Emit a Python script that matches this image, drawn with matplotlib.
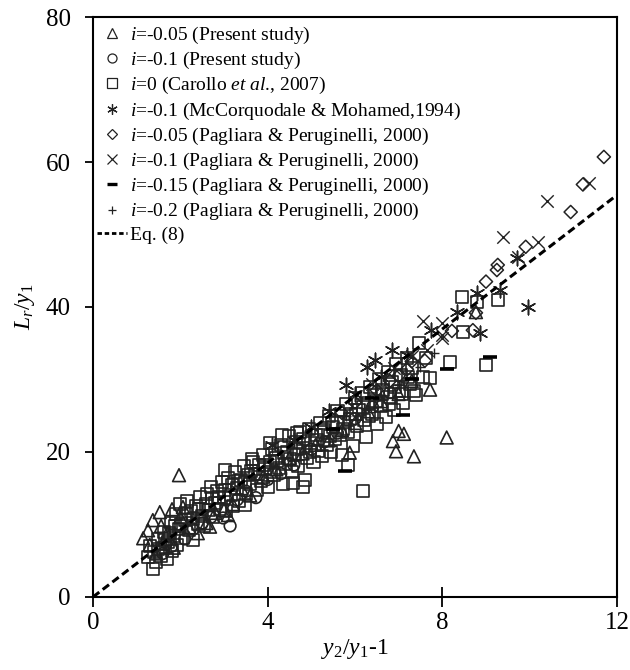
import matplotlib
matplotlib.use("Agg")
import matplotlib.pyplot as plt
from matplotlib.lines import Line2D

plt.rcParams['font.family'] = ['Liberation Serif', 'DejaVu Serif']
plt.rcParams['mathtext.fontset'] = 'custom'
plt.rcParams['mathtext.rm'] = 'Liberation Serif'
plt.rcParams['mathtext.it'] = 'Liberation Serif:italic'

# ---------------- data ----------------
present_005 = [(1.15, 8.1), (1.26, 9.2), (1.37, 10.6), (1.53, 11.7), (1.56, 9.8), (1.81, 12.1),
               (1.97, 16.8), (2.06, 12.4), (2.0, 11.0), (1.3, 7.2), (1.45, 6.0), (1.6, 7.4),
               (1.7, 8.8), (1.85, 6.8), (2.2, 9.6), (2.4, 8.8), (2.6, 10.2), (2.68, 9.7),
               (2.8, 11.6), (3.0, 12.0), (3.09, 11.3), (3.2, 12.8), (3.4, 15.0), (3.6, 14.0),
               (3.9, 16.6), (4.2, 17.6), (4.5, 19.2), (4.8, 19.8), (5.1, 21.0), (5.4, 21.6),
               (5.7, 23.0), (5.88, 19.9), (6.0, 24.0), (6.3, 25.6), (6.6, 27.0), (6.87, 21.5),
               (6.94, 20.1), (7.0, 22.9), (7.12, 22.5), (7.35, 19.4), (8.1, 22.0), (7.72, 28.6),
               (8.77, 39.3), (7.0, 28.0), (7.3, 29.8)]

present_01 = [(3.73, 13.7), (3.14, 9.8), (2.98, 10.9), (1.6, 6.0), (1.8, 7.0), (2.1, 8.0),
              (2.3, 9.4), (2.5, 10.2), (2.7, 11.0), (3.3, 13.4), (3.5, 14.6), (4.0, 16.2),
              (4.3, 17.0), (4.6, 18.2), (5.0, 20.4), (5.3, 21.4), (5.6, 22.6), (6.0, 24.6),
              (6.4, 26.2), (6.8, 28.2)]

carollo_0 = [(1.25, 5.5), (1.30, 7.0), (1.37, 3.8), (1.40, 6.2), (1.45, 4.8), (1.50, 8.0),
             (1.55, 5.6), (1.60, 6.8), (1.62, 9.0), (1.70, 5.2), (1.72, 7.6), (1.78, 10.2),
             (1.80, 6.4), (1.85, 8.4), (1.90, 11.5), (1.92, 7.2), (1.98, 9.4), (2.00, 12.8),
             (2.05, 8.2), (2.10, 10.6), (2.15, 13.3), (2.20, 9.2), (2.25, 11.8), (2.30, 7.8),
             (2.35, 12.6), (2.40, 10.0), (2.45, 13.8), (2.50, 11.2), (2.55, 9.8), (2.60, 14.2),
             (2.65, 12.0), (2.70, 15.2), (2.75, 11.0), (2.80, 13.0), (2.85, 14.6), (2.90, 12.2),
             (2.95, 15.8), (3.00, 13.6), (3.05, 11.8), (3.10, 16.4), (3.15, 14.0), (3.20, 12.6),
             (3.25, 17.2), (3.30, 15.0), (3.35, 13.2), (3.40, 16.2), (3.45, 18.0), (3.50, 14.2),
             (3.55, 16.8), (3.60, 15.6), (3.65, 19.0), (3.70, 17.0), (3.75, 14.8), (3.80, 18.2),
             (3.85, 16.0), (3.90, 19.6), (3.95, 17.6), (4.00, 15.2), (4.05, 18.6), (4.10, 20.4),
             (4.15, 16.8), (4.20, 19.2), (4.25, 17.8), (4.30, 21.0), (4.35, 15.6), (4.40, 18.4),
             (4.45, 20.0), (4.50, 22.2), (4.55, 17.2), (4.60, 19.6), (4.65, 21.4), (4.70, 18.0),
             (4.75, 22.8), (4.80, 20.6), (4.85, 16.2), (4.90, 19.2), (4.95, 23.2), (5.00, 21.2),
             (5.05, 18.6), (5.10, 22.4), (5.15, 20.2), (5.20, 24.0), (5.25, 19.4), (5.30, 22.8),
             (5.35, 21.0), (5.40, 25.0), (5.45, 20.0), (5.50, 23.4), (5.55, 21.8), (5.60, 25.6),
             (5.65, 22.4), (5.70, 19.6), (5.75, 24.2), (5.80, 26.6), (5.85, 22.8), (5.90, 25.2),
             (5.95, 20.8), (6.00, 27.4), (6.05, 23.6), (6.10, 25.8), (6.15, 28.2), (6.20, 24.4),
             (6.25, 22.0), (6.30, 26.8), (6.35, 29.0), (6.40, 25.2), (6.45, 27.8), (6.50, 23.8),
             (6.55, 30.0), (6.60, 26.4), (6.65, 28.6), (6.70, 24.8), (6.75, 31.0), (6.80, 27.6),
             (6.85, 29.6), (6.90, 25.8), (6.95, 32.2), (7.00, 28.4), (7.05, 30.6), (7.10, 26.8),
             (7.20, 33.0), (7.25, 29.4), (7.30, 31.6), (7.40, 27.8), (7.47, 35.0), (7.55, 30.4),
             (7.63, 33.0), (7.72, 30.2), (7.35, 28.4), (6.18, 14.6), (9.0, 32.0), (8.17, 32.4),
             (8.45, 41.4), (9.27, 41.0), (8.8, 40.7), (8.47, 36.5), (5.84, 18.2), (4.8, 15.2),
             (4.58, 15.7), (3.48, 12.7), (3.02, 17.5), (4.33, 22.3), (4.67, 22.6), (4.05, 21.2),
             (3.66, 18.6), (1.5, 6.6), (1.65, 7.8), (1.75, 8.8), (1.88, 9.8), (2.02, 10.0),
             (2.12, 11.4), (2.28, 10.8), (2.42, 12.2), (2.58, 12.8), (2.72, 13.6), (2.88, 13.8),
             (3.02, 14.8), (3.18, 15.4), (3.32, 16.0), (3.48, 15.8), (3.62, 17.4), (3.78, 17.0),
             (3.92, 18.2), (4.08, 17.2), (4.22, 18.8), (4.38, 19.8), (4.52, 19.0), (4.68, 20.4),
             (4.82, 21.8), (4.98, 20.0), (5.12, 21.6), (5.28, 23.0), (5.42, 22.2), (5.58, 24.2),
             (5.72, 23.2), (5.88, 24.6), (6.02, 25.2), (6.18, 26.2), (6.32, 25.0), (6.48, 27.0),
             (6.62, 28.0), (6.78, 26.6), (6.92, 29.0), (7.08, 28.0), (7.22, 30.4)]

mccorquodale_01 = [(9.96, 40.0), (9.71, 46.8), (9.32, 42.3), (8.33, 39.3), (8.86, 36.4),
                   (6.85, 34.1), (7.74, 36.8), (8.79, 41.9), (5.79, 29.2), (6.27, 31.7),
                   (6.46, 32.7), (4.1, 21.0), (5.4, 25.6), (6.0, 28.0), (7.2, 33.4),
                   (5.0, 23.4), (4.6, 21.6), (6.6, 30.4)]

pagliara_005 = [(9.91, 48.3), (9.27, 45.8), (9.25, 45.1), (9.0, 43.5), (8.77, 39.2),
                (8.22, 36.7), (8.7, 36.8), (11.7, 60.7), (11.22, 56.9), (10.94, 53.1),
                (7.19, 31.4), (7.0, 30.5), (6.5, 28.5), (7.3, 32.5), (6.0, 26.8),
                (7.6, 32.6), (6.8, 29.8), (5.7, 25.4)]

pagliara_01 = [(7.55, 38.1), (8.0, 37.8), (8.0, 35.7), (7.65, 34.1), (9.39, 49.7),
               (10.19, 49.0), (10.4, 54.6), (11.36, 57.1), (9.73, 46.9), (8.0, 36.1),
               (6.9, 31.6), (6.4, 29.4), (7.3, 33.2)]

pagliara_015 = [(9.09, 33.1), (8.1, 31.4), (7.1, 25.1), (5.77, 17.4), (6.4, 27.5),
                (5.5, 23.2), (7.3, 30.0)]

pagliara_02 = [(7.49, 31.7), (7.0, 29.2), (6.6, 27.8), (6.2, 26.0), (5.8, 25.0), (7.8, 33.6)]

eq8_slope = 4.62
eq8_x = [0, 12]

# ---------------- figure ----------------
fig = plt.figure(figsize=(6.3, 6.7), dpi=100)
ax = fig.add_axes([0.1476, 0.109, 0.8317, 0.8656])

ec = '#222222'

def xs(p):
    return [a for a, b in p]

def ys(p):
    return [b for a, b in p]

ax.scatter(xs(carollo_0), ys(carollo_0), marker='s', s=75, facecolors='none',
           edgecolors=ec, linewidths=1.2, zorder=2)
ax.scatter(xs(present_005), ys(present_005), marker='^', s=85, facecolors='none',
           edgecolors=ec, linewidths=1.2, zorder=3)
ax.scatter(xs(present_01), ys(present_01), marker='o', s=70, facecolors='none',
           edgecolors=ec, linewidths=1.2, zorder=3)
ax.scatter(xs(mccorquodale_01), ys(mccorquodale_01), marker=(6, 2, 0), s=110,
           color=ec, linewidths=1.1, zorder=3)
ax.scatter(xs(pagliara_005), ys(pagliara_005), marker='D', s=45, facecolors='none',
           edgecolors=ec, linewidths=1.1, zorder=3)
ax.scatter(xs(pagliara_01), ys(pagliara_01), marker='x', s=80,
           color=ec, linewidths=1.0, zorder=3)
ax.scatter(xs(pagliara_015), ys(pagliara_015), marker='_', s=100,
           color='black', linewidths=2.6, zorder=3)
ax.scatter(xs(pagliara_02), ys(pagliara_02), marker='+', s=60,
           color=ec, linewidths=1.0, zorder=3)

ax.plot(eq8_x, [eq8_slope * v for v in eq8_x], color='black', lw=2.2,
        ls=(0, (2.6, 1.4)), zorder=4)

ax.set_xlim(0, 12)
ax.set_ylim(0, 80)
ax.set_xticks([0, 4, 8, 12])
ax.set_yticks([0, 20, 40, 60, 80])
ax.tick_params(axis='x', direction='inout', length=14, width=1.3, labelsize=18, pad=4)
ax.tick_params(axis='y', direction='out', length=6, width=1.3, labelsize=18, pad=10)
for sp in ax.spines.values():
    sp.set_linewidth(1.5)

ax.set_xlabel(r'$\mathit{y}_{\mathrm{2}}/\mathit{y}_{\mathrm{1}}$-1', fontsize=17, labelpad=2)
ax.set_ylabel(r'$\mathit{L}_{\mathit{r}}/\mathit{y}_{\mathrm{1}}$', fontsize=17, labelpad=6)

handles = [
    Line2D([], [], ls='none', marker='^', mfc='none', mec=ec, ms=6.5, mew=0.9),
    Line2D([], [], ls='none', marker='o', mfc='none', mec=ec, ms=6.5, mew=0.9),
    Line2D([], [], ls='none', marker='s', mfc='none', mec=ec, ms=6.5, mew=0.9),
    Line2D([], [], ls='none', marker=(6, 2, 0), color=ec, ms=7.5, mew=0.9),
    Line2D([], [], ls='none', marker='D', mfc='none', mec=ec, ms=5, mew=0.9),
    Line2D([], [], ls='none', marker='x', color=ec, ms=6.5, mew=0.9),
    Line2D([], [], ls='none', marker='_', color='black', ms=6.5, mew=2.4),
    Line2D([], [], ls='none', marker='+', color=ec, ms=5.5, mew=0.9),
    Line2D([], [], color='black', lw=2.0, ls=(0, (1.6, 1.0))),
]
labels = [
    r'$\mathit{i}$=-0.05 (Present study)',
    r'$\mathit{i}$=-0.1 (Present study)',
    r'$\mathit{i}$=0 (Carollo $\mathit{et\ al}$., 2007)',
    r'$\mathit{i}$=-0.1 (McCorquodale & Mohamed,1994)',
    r'$\mathit{i}$=-0.05 (Pagliara & Peruginelli, 2000)',
    r'$\mathit{i}$=-0.1 (Pagliara & Peruginelli, 2000)',
    r'$\mathit{i}$=-0.15 (Pagliara & Peruginelli, 2000)',
    r'$\mathit{i}$=-0.2 (Pagliara & Peruginelli, 2000)',
    'Eq. (8)',
]
leg = ax.legend(handles, labels, loc='upper left', frameon=False, fontsize=14,
                handlelength=1.55, handletextpad=0.15, labelspacing=0.21,
                borderaxespad=0.2, borderpad=0.2, bbox_to_anchor=(-0.008, 1.0))

fig.savefig('out.png', dpi=100)
